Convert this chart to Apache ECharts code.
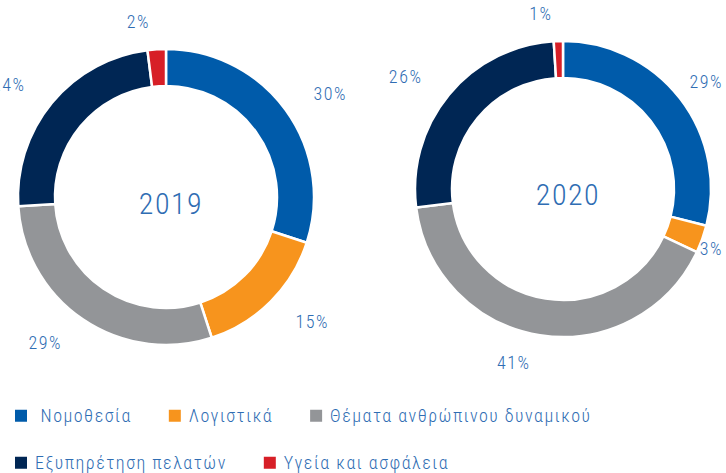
<!DOCTYPE html>
<html>
<head>
<meta charset="utf-8">
<script src="https://cdn.jsdelivr.net/npm/echarts@6/dist/echarts.min.js"></script>
<style>
  html, body { margin: 0; padding: 0; background: #fff; }
  #chart { width: 726px; height: 473px; }
  /* the source uses a condensed font with loose tracking */
  #chart text { letter-spacing: 1.5px; }
</style>
</head>
<body>
<div id="chart"></div>
<script>
const categories = ['Νομοθεσία', 'Λογιστικά', 'Θέματα ανθρώπινου δυναμικού', 'Εξυπηρέτηση πελατών', 'Υγεία και ασφάλεια'];
const values2019 = [30, 15, 29, 24, 2];
const values2020 = [29, 3, 41, 26, 1];
const years = ['2019', '2020'];

const colors = ['#005BAA', '#F7941D', '#939598', '#002654', '#D71F27'];
const textColor = '#2F6DB3';
const font = "'Roboto Condensed', 'Roboto', sans-serif";
const spacing = '1.5px';
const centers = [[166, 197], [563, 189]];
const rightEdge = 723;

// measure text with the same tracking the svg text gets from css
const measureCtx = document.createElement('canvas').getContext('2d');
echarts.setPlatformAPI({
  measureText(text, f) {
    measureCtx.font = f || '12px sans-serif';
    measureCtx.letterSpacing = spacing;
    return measureCtx.measureText(text);
  }
});

const chart = echarts.init(document.getElementById('chart'), null, { renderer: 'svg' });

const pieSeries = (values, center) => ({
  type: 'pie',
  center: center,
  radius: [111, 148],
  startAngle: 90,
  clockwise: true,
  avoidLabelOverlap: false,
  itemStyle: {
    borderColor: '#fff',
    borderWidth: 2.5
  },
  label: {
    show: true,
    position: 'outside',
    formatter: '{c}%',
    color: textColor,
    fontFamily: font,
    fontSize: 18,
    fontWeight: 300
  },
  labelLine: { show: false, length: 28, length2: 0 },
  // keep labels inside the canvas on the right side
  labelLayout: (p) => {
    const r = p.labelRect;
    if (r.x + r.width > rightEdge) {
      return { x: rightEdge - r.width, align: 'left' };
    }
    return {};
  },
  emphasis: { scale: false },
  data: categories.map((name, i) => ({ name, value: values[i] }))
});

const legendBase = {
  icon: 'rect',
  itemWidth: 14,
  itemHeight: 14,
  itemGap: 35,
  textStyle: { color: textColor, fontFamily: font, fontSize: 18, fontWeight: 300, padding: [0, 0, 0, 2] },
  formatter: name => (name === 'Νομοθεσία' ? ' ' + name : name)
};

const titleStyle = { color: textColor, fontFamily: font, fontSize: 30, fontWeight: 300 };

chart.setOption({
  color: colors,
  animation: false,
  title: [
    { text: years[0], left: centers[0][0], top: centers[0][1] + 1, textAlign: 'center', textVerticalAlign: 'middle', textStyle: titleStyle },
    { text: years[1], left: centers[1][0], top: centers[1][1], textAlign: 'center', textVerticalAlign: 'middle', textStyle: titleStyle }
  ],
  legend: [
    Object.assign({}, legendBase, { left: 8, top: 401, data: categories.slice(0, 3) }),
    Object.assign({}, legendBase, { left: 8, top: 448, data: categories.slice(3) })
  ],
  series: [
    pieSeries(values2019, centers[0]),
    pieSeries(values2020, centers[1])
  ]
});
</script>
</body>
</html>
